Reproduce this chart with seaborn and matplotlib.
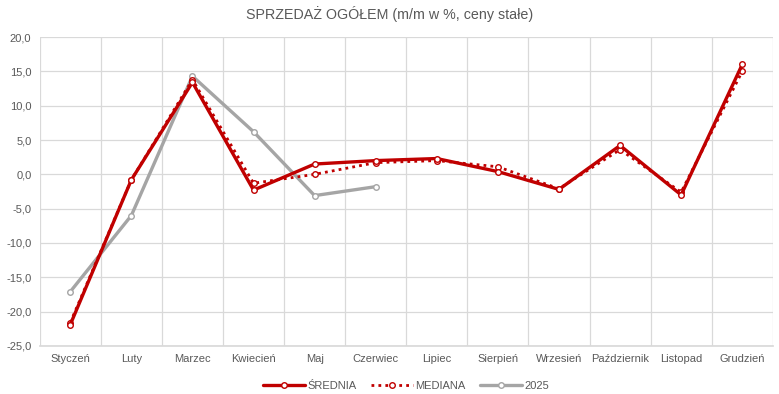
import matplotlib
matplotlib.use("Agg")
import matplotlib.pyplot as plt
import seaborn as sns
import pandas as pd
import numpy as np

months = ["Styczeń", "Luty", "Marzec", "Kwiecień", "Maj", "Czerwiec", "Lipiec",
          "Sierpień", "Wrzesień", "Październik", "Listopad", "Grudzień"]
srednia = [-21.9, -0.8, 13.4, -2.3, 1.5, 2.0, 2.3, 0.4, -2.2, 4.2, -3.0, 16.0]
mediana = [-21.6, -0.8, 13.8, -1.3, 0.0, 1.7, 2.0, 1.1, -2.1, 3.6, -2.6, 15.0]
y2025 = [-17.1, -6.0, 14.3, 6.2, -3.1, -1.8]

sns.set_theme(style="white")
plt.rcParams['font.family'] = ['Liberation Sans', 'DejaVu Sans']

fig = plt.figure(figsize=(7.79, 3.94), dpi=100)
ax = fig.add_axes([0.051, 0.122, 0.941, 0.784])

red = "#C00000"
gray = "#A5A5A5"

df_s = pd.DataFrame({"m": np.arange(12), "v": srednia})
df_m = pd.DataFrame({"m": np.arange(12), "v": mediana})
df_y = pd.DataFrame({"m": np.arange(len(y2025)), "v": y2025})

mk = dict(marker="o", markersize=4, markerfacecolor="white", markeredgewidth=1)
sns.lineplot(data=df_s, x="m", y="v", ax=ax, color=red, linewidth=2.4,
             markeredgecolor=red, label="ŚREDNIA", zorder=4, **mk)
sns.lineplot(data=df_m, x="m", y="v", ax=ax, color=red, linewidth=2.0, linestyle=(0, (1, 1.5)),
             markeredgecolor=red, label="MEDIANA", zorder=3, **mk)
sns.lineplot(data=df_y, x="m", y="v", ax=ax, color=gray, linewidth=2.4,
             markeredgecolor=gray, label="2025", zorder=2, **mk)

ax.set_xlim(-0.5, 11.5)
ax.set_ylim(-25, 20)
ax.set_xticks(np.arange(12))
ax.set_xticklabels(months)
ax.set_xticks(np.arange(-0.5, 12, 1), minor=True)
ax.set_yticks(np.arange(-25, 21, 5))
ax.set_yticklabels([f"{v:.1f}".replace(".", ",") for v in np.arange(-25, 21, 5)])
ax.grid(False)
ax.grid(True, axis="y", which="major", color="#D9D9D9", linewidth=0.9)
ax.grid(True, axis="x", which="minor", color="#D9D9D9", linewidth=0.9)
ax.tick_params(axis="both", which="both", length=0, labelsize=8, labelcolor="#595959", pad=6)
for s in ["top", "right", "left"]:
    ax.spines[s].set_visible(False)
ax.spines["bottom"].set_color("#D9D9D9")
ax.set_xlabel("")
ax.set_ylabel("")
ax.set_axisbelow(True)

fig.text(0.5, 0.965, "SPRZEDAŻ OGÓŁEM (m/m w %, ceny stałe)", fontsize=10.3,
         color="#595959", ha="center", va="center")

leg = ax.legend(loc="upper center", bbox_to_anchor=(0.5, -0.08), ncol=3, frameon=False,
                fontsize=8, handlelength=3.8, columnspacing=1.3, handletextpad=0.2)
for t in leg.get_texts():
    t.set_color("#595959")

fig.savefig("out.png", dpi=100)
